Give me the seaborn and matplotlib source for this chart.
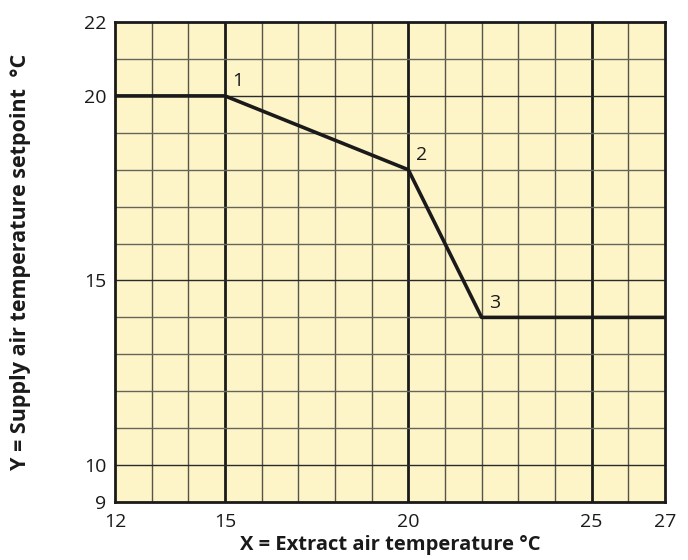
import pandas as pd
import matplotlib.pyplot as plt
import seaborn as sns

# breakpoints of the setpoint curve
extract_temp = [12, 15, 20, 22, 27]
supply_setpoint = [20, 20, 18, 14, 14]
point_labels = ["1", "2", "3"]
point_x = [15, 20, 22]
point_y = [20, 18, 14]

x_ticks = [12, 15, 20, 25, 27]
y_ticks = [9, 10, 15, 20, 22]

df = pd.DataFrame({"x": extract_temp, "y": supply_setpoint})

sns.set_style("white")
plt.rcParams['font.family'] = ['Open Sans', 'DejaVu Sans']

fig = plt.figure(figsize=(6.88, 5.6), dpi=100)
ax = fig.add_axes([0.167, 0.1036, 0.7996, 0.857])
ax.set_facecolor('#fdf4c8')

ax.set_xlim(12, 27)
ax.set_ylim(9, 22)

# grid: thin lines every degree, heavy verticals every 5
for xv in range(13, 27):
    lw, c = (2.0, '#1a1a1a') if xv % 5 == 0 else (1.0, '#555548')
    ax.axvline(xv, color=c, lw=lw, zorder=1)
for yv in range(10, 22):
    c = '#2a2a2a' if yv % 5 == 0 else '#666658'
    ax.axhline(yv, color=c, lw=1.0, zorder=1)

sns.lineplot(data=df, x="x", y="y", ax=ax, color='#1a1a1a', lw=2.6, zorder=3)

for lab, px, py in zip(point_labels, point_x, point_y):
    ax.text(px + 0.2, py + 0.15, lab, fontsize=14, color='#1a1a1a',
            ha='left', va='bottom', zorder=4)

ax.set_xticks(x_ticks)
ax.set_yticks(y_ticks)
ax.tick_params(axis='both', length=0, labelsize=14, colors='#1a1a1a')
ax.tick_params(axis='x', pad=8)
ax.tick_params(axis='y', pad=6)

ax.set_xlabel("X = Extract air temperature °C", fontsize=14.5, fontweight='bold',
              color='#1a1a1a', labelpad=3)
ax.set_ylabel("Y = Supply air temperature setpoint  °C", fontsize=15.5, fontweight='bold',
              color='#1a1a1a', labelpad=38)

for s in ax.spines.values():
    s.set_visible(True)
    s.set_color('#1a1a1a')
    s.set_linewidth(2)
    s.set_zorder(5)

fig.savefig("out.png", dpi=100)
